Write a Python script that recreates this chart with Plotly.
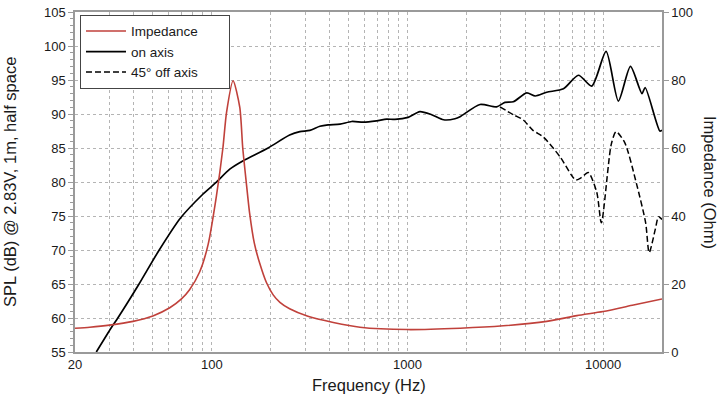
import plotly.graph_objects as go
import math

# ---- data ----
on_freq = [25.7, 30.7, 33.1, 42.5, 53.1, 69.2, 90, 104.8, 123.6, 144, 194, 250, 282, 317, 357, 393,
           452, 519, 595, 695, 783, 863, 1008, 1158, 1330, 1530, 1750, 1857, 2350, 2855, 3150, 3475,
           4070, 4500, 5150, 6270, 7480, 8750, 10360, 11970, 13800, 15800, 16400, 19500, 20000]
on_spl = [55, 58.6, 60, 65, 69.7, 74.7, 78.2, 79.9, 81.9, 83.1, 85, 86.9, 87.4, 87.6, 88.2, 88.4,
          88.5, 88.9, 88.8, 89.0, 89.25, 89.2, 89.5, 90.35, 89.9, 89.15, 89.3, 89.6, 91.4, 91.05, 91.7, 91.8,
          93.1, 92.65, 93.2, 93.7, 95.7, 94.1, 99.2, 91.9, 97.0, 93.0, 93.9, 87.5, 87.6]

off_freq = [2970, 3475, 3900, 4380, 4955, 6030, 7240, 7700, 8400, 9280, 9800, 11000, 11650, 12900,
            14800, 16500, 17200, 18500, 19200, 20000]
off_spl = [91.05, 89.9, 89.15, 87.6, 86.6, 83.7, 80.3, 80.6, 81.4, 78.5, 74.0, 85.5, 87.4, 85.8,
           79.8, 74.0, 69.6, 73.1, 74.9, 74.5]

imp_freq = [20, 23.8, 30, 39.6, 50, 61, 70, 77, 86.8, 95.7, 105.7, 114, 119, 128.5, 139, 144, 150, 156,
            165, 176, 190, 206, 223, 250, 310, 418, 572, 1000, 1860, 3090, 5150, 7350, 10000, 14300, 20000]
imp_ohm = [7.0, 7.3, 7.9, 9.0, 10.6, 13.0, 15.6, 18.3, 23.6, 31.5, 46.0, 60.0, 70.5, 79.8, 72.0, 60.0, 50.0, 41.0,
           32.0, 26.0, 20.5, 16.8, 14.6, 12.7, 10.5, 8.7, 7.3, 6.6, 7.0, 7.7, 9.0, 10.7, 11.9, 13.8, 15.6]

x_grid = [20, 30, 40, 50, 60, 70, 80, 90, 100, 200, 300, 400, 500, 600, 700, 800, 900,
          1000, 2000, 3000, 4000, 5000, 6000, 7000, 8000, 9000, 10000, 20000]
x_labels = {20: "20", 100: "100", 1000: "1000", 10000: "10000"}
spl_ticks = [55, 60, 65, 70, 75, 80, 85, 90, 95, 100, 105]
imp_ticks = [0, 20, 40, 60, 80, 100]
series_names = ["Impedance", "on axis", "45° off axis"]

FONT = "Liberation Sans, Arial, Helvetica, sans-serif"
AX = "#9a9a9a"
GRID = "#b4b4b4"
PAD = "\u00a0" * 7

fig = go.Figure()
fig.add_trace(go.Scatter(x=imp_freq, y=imp_ohm, yaxis="y2", mode="lines", name=series_names[0],
                         line=dict(color="#c0413b", width=1.6, shape="spline", smoothing=0.7)))
fig.add_trace(go.Scatter(x=on_freq, y=on_spl, mode="lines", name=series_names[1],
                         line=dict(color="#000000", width=1.7, shape="spline", smoothing=0.7)))
fig.add_trace(go.Scatter(x=off_freq, y=off_spl, mode="lines", name=series_names[2] + PAD,
                         line=dict(color="#000000", width=1.5, dash="6px,3px", shape="spline", smoothing=0.7)))

fig.update_layout(
    width=720, height=399,
    margin=dict(l=75, r=58, t=5, b=47),
    paper_bgcolor="white", plot_bgcolor="white",
    font=dict(family=FONT, size=13, color="#1a1a1a"),
    showlegend=True,
    legend=dict(x=0.0085, y=0.992, xanchor="left", yanchor="top",
                bordercolor="#444", borderwidth=1, bgcolor="white",
                font=dict(size=13.5, family=FONT), tracegroupgap=0, itemwidth=40),
    xaxis=dict(type="log", range=[math.log10(20), math.log10(20000)],
               tickmode="array", tickvals=x_grid,
               ticktext=[x_labels.get(v, "") for v in x_grid],
               showgrid=True, gridcolor=GRID, griddash="dot", gridwidth=1,
               showline=True, linecolor=AX, linewidth=1.5, mirror=True,
               ticks="", zeroline=False, tickfont=dict(size=13), ticklabeloverflow="allow"),
    yaxis=dict(range=[55, 105], tickmode="array", tickvals=spl_ticks,
               showgrid=True, gridcolor=GRID, griddash="dot", gridwidth=1,
               showline=True, linecolor=AX, linewidth=1.5,
               ticks="outside", ticklen=5, tickcolor=AX,
               minor=dict(dtick=1, ticks="outside", ticklen=3, tickcolor=AX, showgrid=False),
               zeroline=False, tickfont=dict(size=13), ticklabeloverflow="allow"),
    yaxis2=dict(range=[0, 100], overlaying="y", side="right", tickmode="array", tickvals=imp_ticks,
                showgrid=False, showline=True, linecolor=AX, linewidth=1.5,
                ticks="outside", ticklen=5, tickcolor=AX, zeroline=False, tickfont=dict(size=13),
                ticklabeloverflow="allow"),
    annotations=[
        dict(text="Frequency (Hz)", xref="paper", yref="paper", x=0.5, y=(352 - 386) / 347,
             xanchor="center", yanchor="middle", showarrow=False, font=dict(size=16.5, family=FONT)),
        dict(text="SPL (dB) @ 2.83V, 1m, half space", xref="paper", yref="paper",
             x=(10 - 75) / 587, y=0.5, xanchor="center", yanchor="middle", textangle=-90,
             showarrow=False, font=dict(size=16.5, family=FONT)),
        dict(text="Impedance (Ohm)", xref="paper", yref="paper",
             x=(710 - 75) / 587, y=0.5, xanchor="center", yanchor="middle", textangle=90,
             showarrow=False, font=dict(size=16.5, family=FONT)),
    ],
)

fig.write_html("out.html", config={"displayModeBar": False},
               post_script="document.body.style.margin='0';document.body.style.overflow='hidden';")
